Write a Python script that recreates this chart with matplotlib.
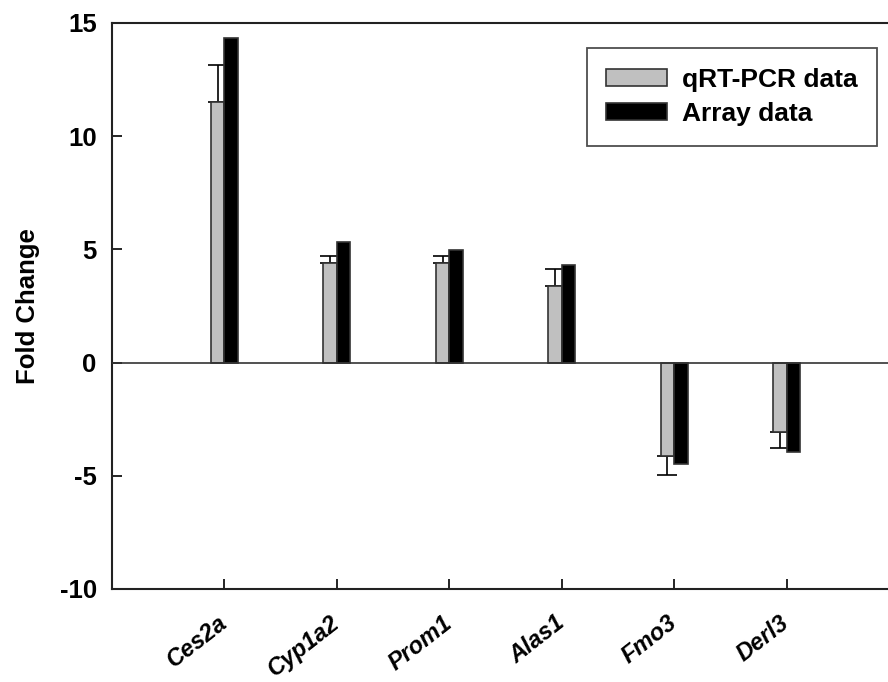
import matplotlib
matplotlib.use("Agg")
import numpy as np
import matplotlib.pyplot as plt
from matplotlib.transforms import ScaledTranslation

# datos
genes = ['Ces2a', 'Cyp1a2', 'Prom1', 'Alas1', 'Fmo3', 'Derl3']
qpcr = [11.53, 4.39, 4.39, 3.40, -4.12, -3.07]
qpcr_err = [1.62, 0.33, 0.33, 0.74, 0.85, 0.72]
array_data = [14.33, 5.31, 4.99, 4.30, -4.49, -3.95]
yticks = [-10, -5, 0, 5, 10, 15]

plt.rcParams['font.family'] = ['Liberation Sans', 'DejaVu Sans']
plt.rcParams['font.weight'] = 'bold'
plt.rcParams['axes.unicode_minus'] = False

fig = plt.figure(figsize=(8.88, 6.82), dpi=100)
ax = fig.add_axes([112 / 888, 93 / 682, 787 / 888, 566 / 682])

x = np.arange(1, len(genes) + 1)
width = 0.12

# barras de error solo hacia afuera
qpcr = np.array(qpcr)
err = np.array(qpcr_err)
lower = np.where(qpcr < 0, err, 0)
upper = np.where(qpcr >= 0, err, 0)
ax.errorbar(x - width / 2, qpcr, yerr=[lower, upper], fmt='none', ecolor='black',
            elinewidth=1.2, capsize=7, capthick=1.2, zorder=1)

ax.bar(x - width / 2, qpcr, width, color='#c0c0c0', edgecolor='#333333',
       linewidth=1.2, label='qRT-PCR data', zorder=2)
ax.bar(x + width / 2, array_data, width, color='black', edgecolor='#333333',
       linewidth=1.2, label='Array data', zorder=2)

ax.axhline(0, color='#333333', linewidth=1.2, zorder=3)

ax.set_xlim(0, 7)
ax.set_ylim(-10, 15)
ax.tick_params(direction='in', length=7, width=1.2)
ax.tick_params(axis='y', pad=11)
ax.tick_params(axis='x', pad=16)
ax.set_yticks(yticks)
ax.set_yticklabels([str(v) for v in yticks], fontsize=18.5, fontweight='bold')
ax.set_xticks(x)
ax.set_xticklabels(genes, rotation=38, ha='right', va='top',
                   fontstyle='italic', fontweight='bold', fontsize=17)
# desplazar las etiquetas un poco a la derecha
shift = ScaledTranslation(7 / 100, 0, fig.dpi_scale_trans)
for lbl in ax.get_xticklabels():
    lbl.set_transform(lbl.get_transform() + shift)

for s in ax.spines.values():
    s.set_linewidth(1.5)
    s.set_color('#222222')
ax.spines['right'].set_visible(False)

ax.set_ylabel('Fold Change', fontsize=18.5, fontweight='bold', labelpad=14)

leg = ax.legend(loc='upper right', bbox_to_anchor=(877 / 888, 1 - 48 / 682),
                bbox_transform=fig.transFigure, borderaxespad=0, fancybox=False,
                edgecolor='#222222', fontsize=19, handlelength=2.3, handleheight=0.6,
                labelspacing=0.38, borderpad=0.75, handletextpad=0.55)
leg.get_frame().set_linewidth(1.3)
for t in leg.get_texts():
    t.set_fontweight('bold')

fig.savefig('out.png', dpi=100)
